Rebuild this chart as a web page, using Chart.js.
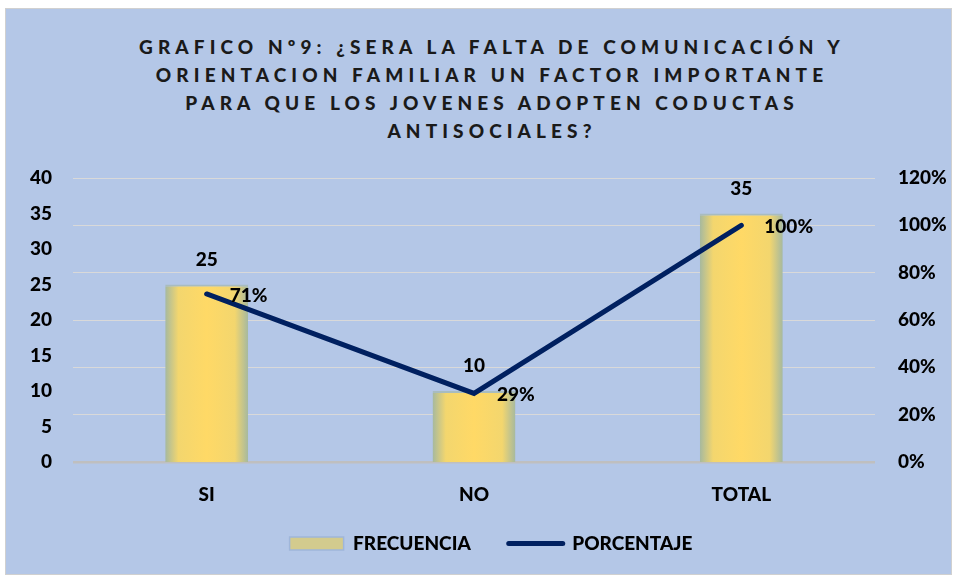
<!DOCTYPE html>
<html>
<head>
<meta charset="utf-8">
<script src="https://cdn.jsdelivr.net/npm/chart.js@4.4.1/dist/chart.umd.min.js"></script>
<style>
  body { margin: 0; background: #ffffff; }
  #frame { position: absolute; left: 5px; top: 8px; width: 945px; height: 565px;
           background: #b4c7e7; border: 1px solid #d0d0d0; }
  #title { position: absolute; left: 0; top: 33px; width: 958px; padding-left: 26px; box-sizing: border-box;
           text-align: center; font: 900 19px Lato, sans-serif; letter-spacing: 5.1px;
           line-height: 28px; color: #1a1a1a; }
  #wrap { position: absolute; left: 0; top: 0; width: 958px; height: 578px; }
</style>
</head>
<body>
<div id="frame"></div>
<div id="title">GRAFICO Nº9: ¿SERA LA FALTA DE COMUNICACIÓN Y<br>ORIENTACION FAMILIAR UN FACTOR IMPORTANTE<br>PARA QUE LOS JOVENES ADOPTEN CODUCTAS<br>ANTISOCIALES?</div>
<div id="wrap"><canvas id="chart1"></canvas></div>
<script>
let categories = ['SI', 'NO', 'TOTAL'];
let frecuencia = [25, 10, 35];
let porcentaje = [0.71, 0.29, 1.00];
let pct_labels = ['71%', '29%', '100%'];

const FONT = 'Lato, sans-serif';
const WEIGHT = 900;
const BAR_PCT = 0.31;

function bar_fill(context) {
    let chart = context.chart;
    let xs = chart.scales.x;
    if (!chart.chartArea || !xs) return '#ffd966';
    let cx = xs.getPixelForValue(context.index);
    let hw = (chart.chartArea.width / categories.length) * BAR_PCT / 2;
    let g = chart.ctx.createLinearGradient(cx - hw, 0, cx + hw, 0);
    g.addColorStop(0, '#a6b99f');
    g.addColorStop(0.16, '#f3d66e');
    g.addColorStop(0.5, '#ffd966');
    g.addColorStop(0.84, '#f3d66e');
    g.addColorStop(1, '#a6b99f');
    return g;
}

// value labels for bars and line
const value_labels = {
    id: 'value_labels',
    afterDatasetsDraw(chart) {
        let ctx = chart.ctx;
        ctx.save();
        ctx.font = WEIGHT + ' 19px ' + FONT;
        ctx.fillStyle = '#000000';
        ctx.textBaseline = 'middle';
        let bars = chart.getDatasetMeta(0).data;
        ctx.textAlign = 'center';
        bars.forEach((b, i) => ctx.fillText(String(frecuencia[i]), b.x, b.y - 25));
        let pts = chart.getDatasetMeta(1).data;
        ctx.textAlign = 'left';
        pts.forEach((p, i) => ctx.fillText(pct_labels[i], p.x + 23, p.y + 2));
        ctx.restore();
    }
};

// move the legend a bit, like the original
const legend_shift = {
    id: 'legend_shift',
    afterLayout(chart) {
        let lg = chart.legend;
        if (!lg) return;
        lg.left += 12; lg.right += 12;
        lg.top -= 15; lg.bottom -= 15;
    }
};

let ctx = document.getElementById('chart1');
var chart = new Chart(ctx, {
    data: {
        labels: categories,
        datasets: [
            {
                type: 'bar',
                label: 'FRECUENCIA',
                data: frecuencia,
                yAxisID: 'y',
                backgroundColor: bar_fill,
                borderColor: 'rgba(160,180,165,0.6)',
                borderWidth: { top: 2, left: 0, right: 0, bottom: 0 },
                borderSkipped: 'bottom',
                barPercentage: BAR_PCT,
                categoryPercentage: 1,
                order: 2,
            },
            {
                type: 'line',
                label: 'PORCENTAJE',
                data: porcentaje,
                yAxisID: 'y1',
                borderColor: '#002060',
                backgroundColor: '#002060',
                borderWidth: 5,
                borderCapStyle: 'round',
                pointRadius: 0,
                tension: 0,
                order: 1,
            }
        ],
    },
    options: {
        responsive: true,
        maintainAspectRatio: false,
        animation: false,
        layout: { padding: { top: 178, bottom: 0, left: 0, right: 0 } },
        scales: {
            x: {
                grid: { display: false },
                border: { display: false },
                ticks: { color: '#000', font: { family: FONT, size: 19, weight: WEIGHT }, padding: 13 },
                afterFit: (axis) => { axis.height = 49; },
            },
            y: {
                position: 'left',
                min: 0, max: 40,
                ticks: { stepSize: 5, color: '#000', font: { family: FONT, size: 19, weight: WEIGHT }, padding: 13 },
                grid: { display: false },
                border: { display: false },
                afterFit: (axis) => { axis.width = 73; },
            },
            y1: {
                position: 'right',
                min: 0, max: 1.2,
                ticks: {
                    stepSize: 0.2, color: '#000', padding: 23,
                    font: { family: FONT, size: 19, weight: WEIGHT },
                    callback: (v) => Math.round(v * 100) + '%',
                },
                grid: {
                    drawTicks: false,
                    color: (c) => c.tick && c.tick.value === 0 ? '#bfbfbf' : '#d9d9d9',
                    lineWidth: (c) => c.tick && c.tick.value === 0 ? 2.5 : 1,
                },
                border: { display: false },
                afterFit: (axis) => { axis.width = 83; },
            },
        },
        plugins: {
            legend: {
                position: 'bottom',
                labels: {
                    color: '#000',
                    font: { family: FONT, size: 19, weight: WEIGHT },
                    usePointStyle: true,
                    pointStyleWidth: 54,
                    boxHeight: 13,
                    padding: 38,
                    generateLabels: (ch) => [
                        { text: 'FRECUENCIA', fillStyle: '#d3cb8e', strokeStyle: '#9fb6da', lineWidth: 1.5,
                          pointStyle: 'rect', datasetIndex: 0 },
                        { text: 'PORCENTAJE', fillStyle: '#002060', strokeStyle: '#002060', lineWidth: 5,
                          lineCap: 'round', pointStyle: 'line', datasetIndex: 1 },
                    ],
                },
            },
            tooltip: { enabled: false },
        },
    },
    plugins: [value_labels, legend_shift],
});
</script>
</body>
</html>
